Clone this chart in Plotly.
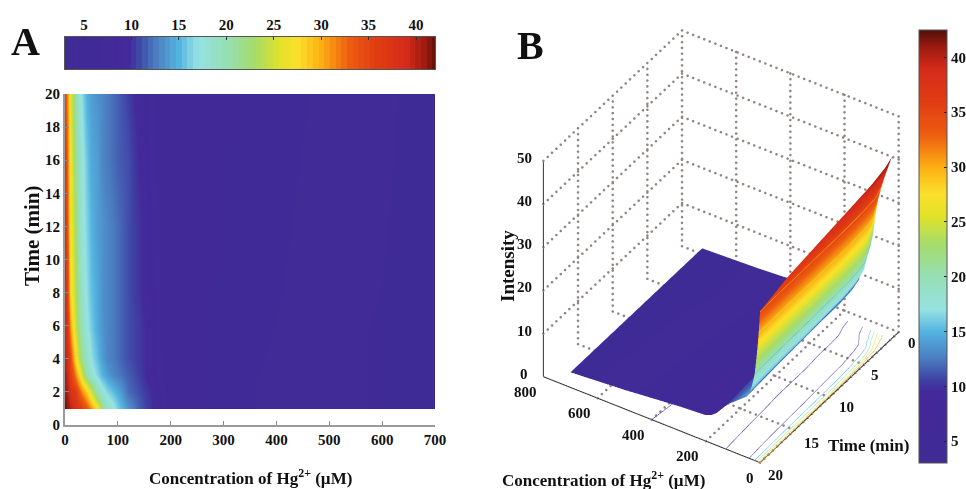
import plotly.graph_objects as go
import numpy as np

W, H = 966, 489

conc = [0, 5, 10, 15, 20, 30, 40, 50, 60, 70, 80, 90, 100, 120, 140, 160, 180, 200, 300, 400, 500, 700]
time_min = [1, 2, 3, 4, 6, 8, 12, 16, 20]
intensity = [
    [42.0, 41.0, 40.0, 39.0, 38.0, 36.0, 34.0, 31.0, 27.0, 22.0, 19.0, 17.5, 16.0, 13.5, 11.5, 10.2, 8.0, 6.0, 5.0, 4.4, 4.0, 3.5],
    [41.0, 40.0, 38.0, 37.0, 36.0, 32.0, 29.0, 25.0, 20.0, 18.0, 16.5, 15.5, 14.5, 12.0, 11.0, 9.8, 8.0, 6.0, 5.0, 4.4, 4.0, 3.5],
    [40.5, 39.0, 36.0, 34.0, 31.0, 26.0, 21.0, 18.0, 16.5, 15.0, 14.0, 13.0, 12.5, 11.5, 10.5, 9.0, 7.5, 6.0, 5.0, 4.4, 4.0, 3.5],
    [40.0, 38.0, 35.0, 31.0, 27.0, 22.0, 19.0, 17.0, 15.5, 14.0, 13.0, 12.5, 12.0, 11.0, 10.3, 9.0, 7.2, 6.0, 5.1, 4.5, 4.0, 3.5],
    [39.5, 36.0, 31.0, 27.0, 24.0, 20.0, 17.5, 16.0, 14.5, 13.5, 13.0, 12.5, 12.0, 11.0, 10.3, 9.0, 7.0, 6.0, 5.2, 4.6, 4.0, 3.5],
    [39.0, 34.0, 28.0, 26.0, 23.0, 19.0, 17.0, 15.5, 14.5, 13.5, 13.0, 12.5, 12.0, 11.0, 10.0, 8.5, 7.0, 6.0, 5.3, 4.7, 4.1, 3.5],
    [38.0, 32.0, 27.0, 25.0, 22.0, 18.0, 16.5, 15.0, 14.0, 13.5, 13.0, 12.5, 12.0, 11.0, 10.0, 8.0, 7.0, 6.0, 5.4, 4.8, 4.2, 3.5],
    [37.0, 31.0, 27.0, 24.0, 21.0, 18.0, 16.0, 14.5, 14.0, 13.0, 12.5, 12.0, 11.5, 11.0, 9.5, 8.0, 6.5, 6.0, 5.5, 4.9, 4.3, 3.5],
    [35.0, 30.0, 26.0, 23.0, 20.0, 17.0, 15.0, 14.0, 13.5, 13.0, 12.5, 12.0, 11.5, 10.5, 9.0, 7.5, 6.5, 6.0, 5.6, 5.0, 4.4, 3.5],
]
bar_levels = [3 + 0.6 * i for i in range(66)]
a_ticks_x = [0, 100, 200, 300, 400, 500, 600, 700]
a_ticks_y = [0, 2, 4, 6, 8, 10, 12, 14, 16, 18, 20]
bar_ticks = [5, 10, 15, 20, 25, 30, 35, 40]
b_conc_ticks = [0, 200, 400, 600, 800]
b_time_ticks = [0, 5, 10, 15, 20]
b_z_ticks = [0, 10, 20, 30, 40, 50]

ZMIN, ZMAX = 3, 42.5
stops = [(3, "#3f2b96"), (9.5, "#43299a"), (10.5, "#3f3fa3"), (12.5, "#4a7cc0"), (15, "#54b4e0"),
         (17, "#96e2e2"), (20, "#95dfb5"), (23, "#a6dc6a"), (25.5, "#e0e228"), (27.5, "#fbe02c"),
         (30, "#fcae12"), (33, "#ec5c10"), (36, "#e03c14"), (39, "#d42a1a"), (41, "#9a1a10"), (42.5, "#4e1008")]
cscale = [[(v - ZMIN) / (ZMAX - ZMIN), c] for v, c in stops]

SERIF = "Liberation Serif"
tickfont = dict(family=SERIF, size=15, color="#111111", weight="bold")


def px_x(p):
    return p / W


def px_y(p):
    return 1 - p / H


fig = go.Figure()

# Panel A heatmap (first row repeated so that the map starts right at t = 1)
heat_time = [time_min[0], time_min[0] + 0.02] + time_min[1:]
heat_rows = [intensity[0]] + intensity
fig.add_trace(go.Heatmap(x=conc, y=heat_time, z=heat_rows, zmin=ZMIN, zmax=ZMAX, colorscale=cscale,
                         zsmooth="best", showscale=False, xaxis="x", yaxis="y"))
# Panel A horizontal colour bar
fig.add_trace(go.Heatmap(x=bar_levels, y=[0], z=[bar_levels], zmin=ZMIN, zmax=ZMAX, colorscale=cscale,
                         showscale=False, xaxis="x2", yaxis="y2"))

# Panel B surface with floor contours
fig.add_trace(go.Surface(
    x=conc, y=time_min, z=intensity, cmin=ZMIN, cmax=ZMAX, colorscale=cscale,
    lighting=dict(ambient=1, diffuse=0, specular=0, roughness=1, fresnel=0),
    contours=dict(z=dict(show=True, start=5, end=40, size=5, usecolormap=True,
                         project=dict(z=True), width=2)),
    hoverinfo="skip", scene="scene",
    colorbar=dict(x=px_x(919), xanchor="left", xpad=0, y=px_y(30), yanchor="top", ypad=0,
                  lenmode="pixels", len=433, thicknessmode="pixels", thickness=28,
                  tickvals=bar_ticks, ticks="inside", ticklen=3, tickcolor="#222222",
                  tickfont=dict(family=SERIF, size=15, color="#111111", weight="bold"),
                  outlinecolor="#555555", outlinewidth=1),
))


def dotted3d(a, b, n):
    xs = np.linspace(a[0], b[0], n)
    ys = np.linspace(a[1], b[1], n)
    zs = np.linspace(a[2], b[2], n)
    fig.add_trace(go.Scatter3d(x=xs, y=ys, z=zs, mode="markers", scene="scene", showlegend=False,
                               hoverinfo="skip", marker=dict(color="#8f8582", size=1.5, line=dict(width=0))))


def line3d(xs, ys, zs, color="#333333", width=2):
    fig.add_trace(go.Scatter3d(x=xs, y=ys, z=zs, mode="lines", scene="scene", showlegend=False,
                               hoverinfo="skip", line=dict(color=color, width=width)))


XM, YM, ZM = b_conc_ticks[-1], b_time_ticks[-1], b_z_ticks[-1]
for z in b_z_ticks[1:]:
    dotted3d((XM, YM, z), (XM, 0, z), 33)
    dotted3d((XM, 0, z), (0, 0, z), 40)
for t in b_time_ticks[:-1]:
    dotted3d((0, t, 0), (XM, t, 0), 40)
    dotted3d((XM, t, 0), (XM, t, ZM), 38)
for c in b_conc_ticks[:-1]:
    dotted3d((c, 0, 0), (c, YM, 0), 33)
    dotted3d((c, 0, 0), (c, 0, ZM), 38)
line3d([XM, 0], [YM, YM], [0, 0])
line3d([0, 0], [YM, 0], [0, 0])
line3d([XM, XM], [YM, YM], [0, ZM])

label = lambda x, y, z, text, dx, dy: dict(x=x, y=y, z=z, text=f"<b>{text}</b>", showarrow=False,
                                            xshift=dx, yshift=dy, font=dict(family=SERIF, size=15, color="#111111"))
ann3d = []
for c in b_conc_ticks:
    ann3d.append(label(c, YM, 0, c, -18 if c else -10, -15))
for t, off in zip(b_time_ticks, [(13, -11), (11, -10), (17, -10), (17, -13), (16, -12)]):
    ann3d.append(label(0, t, 0, t, off[0], off[1]))
for z in b_z_ticks:
    ann3d.append(label(XM, YM, z, z, -19, 3))

def text(px, py, s, size=14, **kw):
    return dict(x=px_x(px), y=px_y(py), xref="paper", yref="paper", xanchor="center", yanchor="middle",
                text=f"<b>{s}</b>", showarrow=False,
                font=dict(family=SERIF, size=size, color="#111111"), **kw)


fig.update_layout(
    width=W, height=H, margin=dict(l=0, r=0, t=0, b=0, autoexpand=False), paper_bgcolor="white", plot_bgcolor="white",
    showlegend=False,
    xaxis=dict(domain=[px_x(65), px_x(435)], range=[0, 700], tickvals=a_ticks_x, ticks="inside", ticklen=4,
               tickcolor="#888888", showgrid=False, zeroline=False, showline=True, linecolor="#999999", linewidth=2,
               tickfont=tickfont, anchor="y"),
    yaxis=dict(domain=[px_y(425), px_y(94)], range=[0, 20], tickvals=a_ticks_y, ticks="inside", ticklen=4,
               tickcolor="#888888", showgrid=False, zeroline=False, showline=True, linecolor="#999999", linewidth=2,
               tickfont=tickfont, anchor="x"),
    xaxis2=dict(domain=[px_x(65), px_x(435)], range=[ZMIN, 42], tickvals=bar_ticks, side="top", ticks="inside",
                ticklen=3, tickcolor="#333333", showgrid=False, zeroline=False, showline=True, mirror=True,
                linecolor="#555555", linewidth=1, tickfont=tickfont, anchor="y2"),
    yaxis2=dict(domain=[px_y(69), px_y(37)], showticklabels=False, ticks="", showgrid=False, zeroline=False,
                showline=True, mirror=True, linecolor="#555555", linewidth=1, anchor="x2", range=[-0.5, 0.5]),
    scene=dict(
        domain=dict(x=[px_x(496), px_x(946)], y=[px_y(489), px_y(4)]),
        xaxis=dict(visible=False, range=[0, 800]),
        yaxis=dict(visible=False, range=[0, 20]),
        zaxis=dict(visible=False, range=[0, 50]),
        aspectmode="manual",
        aspectratio=dict(x=1.065, y=1.05, z=1.124),
        camera=dict(projection=dict(type="orthographic"),
                    eye=dict(x=-0.431 * 2.18, y=0.664 * 2.18, z=0.611 * 2.18),
                    center=dict(x=0, y=0, z=0), up=dict(x=0, y=0, z=1)),
        bgcolor="white",
        annotations=ann3d,
    ),
    annotations=[
        text(25, 41, "A", size=40),
        text(530, 45, "B", size=40),
        text(250, 477, "Concentration of Hg<sup>2+</sup> (µM)", size=17),
        text(603, 479, "Concentration of Hg<sup>2+</sup> (µM)", size=17),
        text(868, 445, "Time (min)", size=17),
        text(32, 236, "Time (min)", size=21, textangle=-90),
        text(507, 266, "Intensity", size=19, textangle=-90),
    ],
)

fig.write_html("out.html", post_script="document.body.style.margin='0';", config=dict(displayModeBar=False))
